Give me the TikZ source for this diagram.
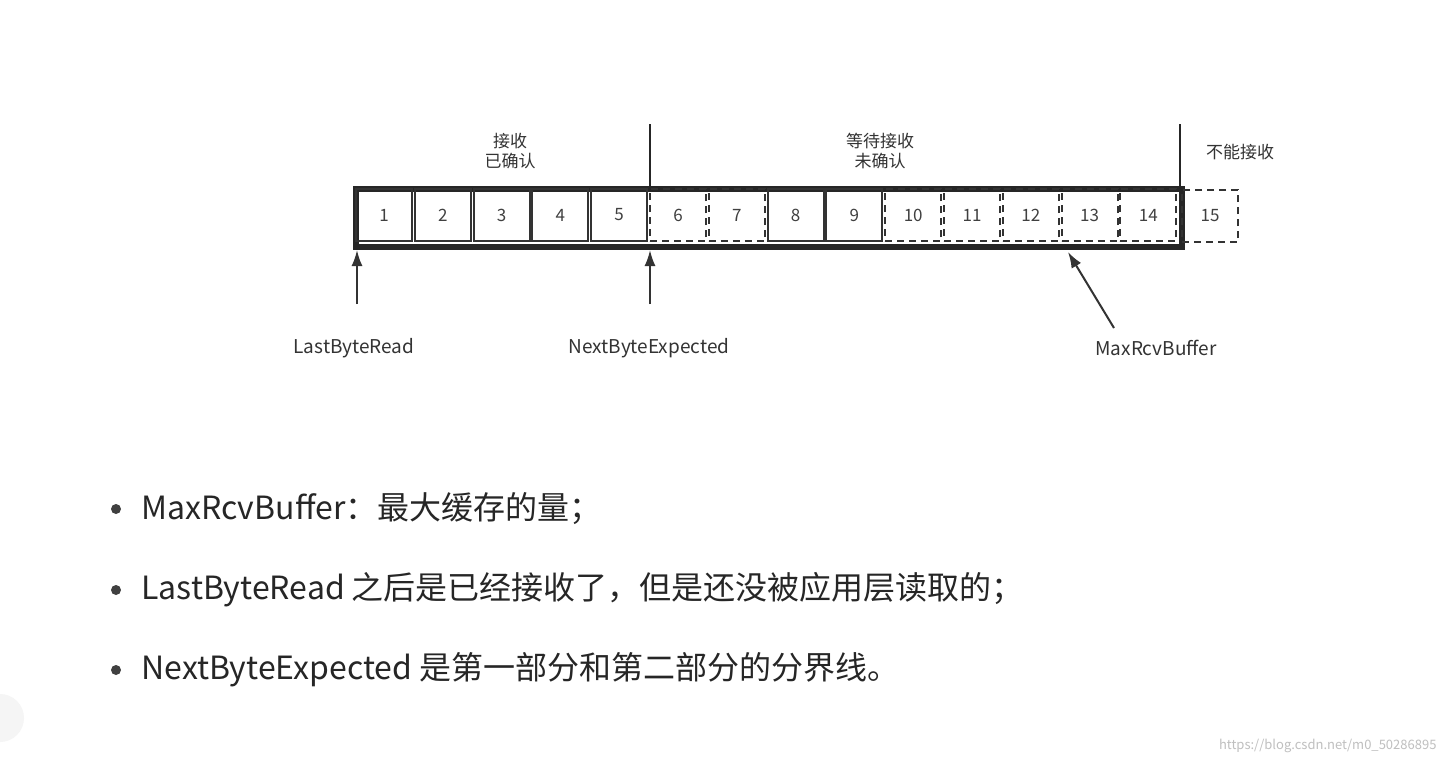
\documentclass[tikz,border=0pt]{standalone}
\usepackage{fontspec}
\setmainfont{Noto Sans CJK SC}
\usetikzlibrary{arrows.meta, positioning}
\tikzset{
  cell/.style={draw=black!80, line width=2pt, minimum width=56pt, minimum height=52pt, inner sep=0pt, font=\fontsize{17}{17}\selectfont, text=black!75},
  dcell/.style={cell, dashed, dash pattern=on 7pt off 5pt},
  lbl/.style={font=\fontsize{17}{20}\selectfont, text=black!80, align=center},
  plbl/.style={lbl, font=\fontsize{19}{20}\selectfont},
  ptr/.style={line width=2pt, draw=black!80, -{Latex[length=16pt,width=11pt]}},
  item/.style={font=\fontsize{32}{32}\selectfont, text=black!85, anchor=west}
}
\begin{document}
\begin{tikzpicture}[x=1pt, y=-1pt]
  \useasboundingbox[fill=white] (0,0) rectangle (1446,764);
  % buffer frame
  \node[draw=black!85, line width=6pt, minimum width=826pt, minimum height=58pt, anchor=north west] (frame) at (353,186) {};
  \foreach \i/\st in {1/cell,2/cell,3/cell,4/cell,5/cell,6/dcell,7/dcell,8/cell,9/cell,10/dcell,11/dcell,12/dcell,13/dcell,14/dcell}
    \node[\st] (c\i) at ({384+58.8*(\i-1)},215) {\i};
  \node[dcell] (c15) at (1210,216) {15};

  % section borders
  \coordinate (s1) at (650,124);
  \coordinate (s2) at (1180,124);
  \draw[line width=1.5pt, black!85] (s1) -- (s1 |- frame.north);
  \draw[line width=1.5pt, black!85] (s2) -- (s2 |- frame.north);
  \node[lbl] (ack) at (510,151) {接收\\已确认};
  \node[lbl] (wait) at (880,151) {等待接收\\未确认};
  \node[lbl] (no) at (1240,152) {不能接收};

  % pointers
  \node[plbl] (lbr) at (354,348) {LastByteRead};
  \node[plbl] (nbe) at (649,348) {NextByteExpected};
  \node[plbl] (mrb) at (1156,348) {MaxRcvBuffer};
  \coordinate (p1) at (357,304);
  \coordinate (p2) at (650,304);
  \coordinate (p3) at (1114,328);
  \draw[ptr] (p1) -- (p1 |- frame.south);
  \draw[ptr] (p2) -- (p2 |- frame.south);
  \draw[ptr] (p3) -- (1068,252);

  % notes
  \foreach \y/\t in {509/{MaxRcvBuffer：最大缓存的量；},590/{LastByteRead 之后是已经接收了，但是还没被应用层读取的；},670/{NextByteExpected 是第一部分和第二部分的分界线。}} {
    \fill[black!75] (116,\y) circle (5pt);
    \node[item] at (138,\y) {\t};
  }
  \fill[black!4] (0,718) circle (24pt);
  \node[font=\fontsize{13}{13}\selectfont, text=black!25, anchor=east] (wm) at (1440,746) {https://blog.csdn.net/m0\_50286895};
\end{tikzpicture}
\end{document}
